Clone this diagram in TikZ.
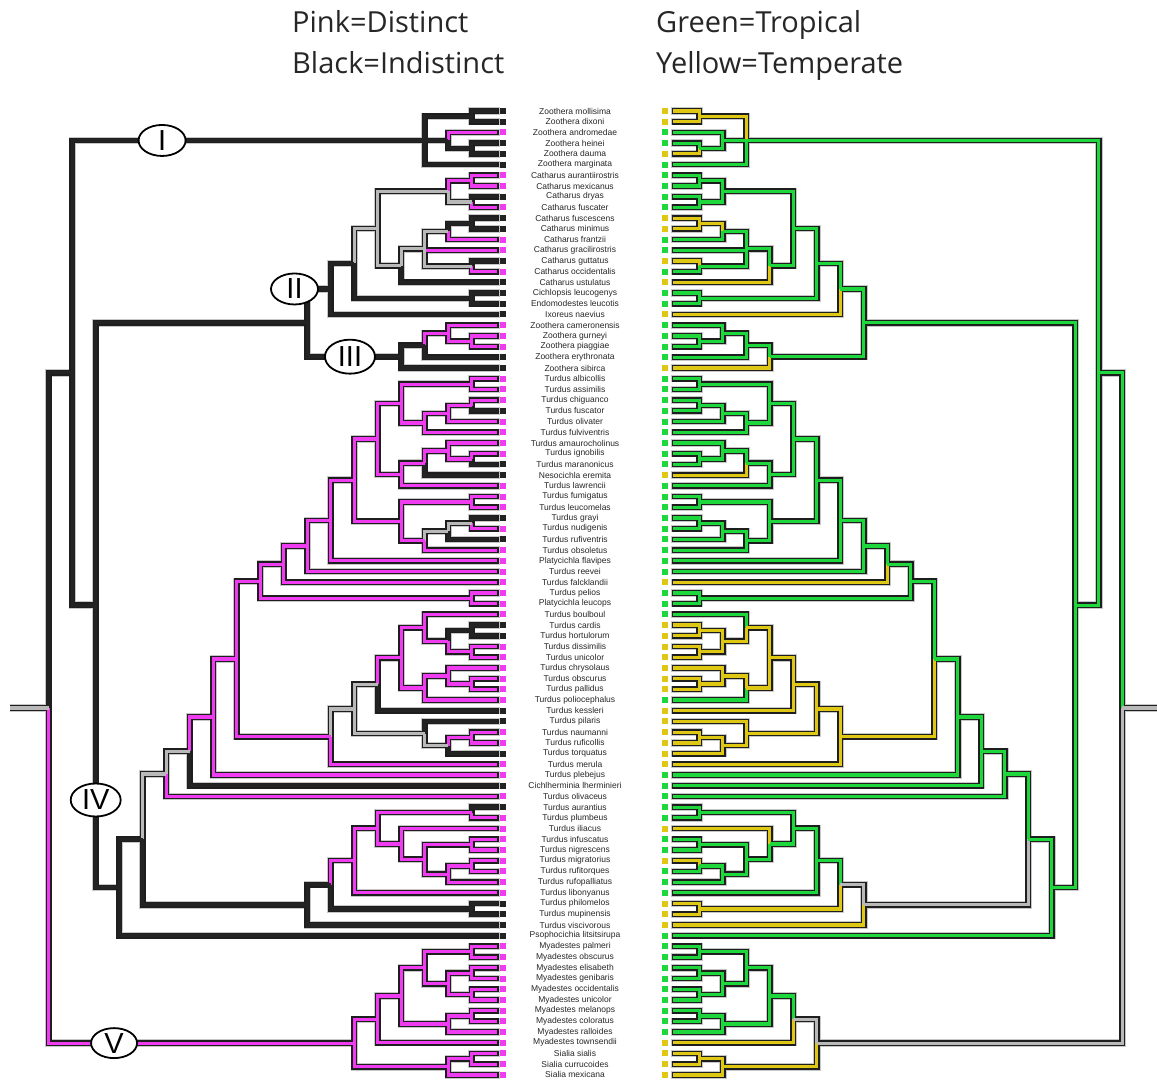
\documentclass[tikz,border=0pt]{standalone}
\usepackage{fontspec}
\setmainfont{Liberation Sans}
\newfontfamily\headfont{Open Sans}
\usetikzlibrary{calc,shapes.geometric}

\definecolor{pk}{RGB}{240,60,240}
\definecolor{bk}{RGB}{35,35,35}
\definecolor{gy}{RGB}{185,185,185}
\definecolor{gn}{RGB}{30,215,60}
\definecolor{yl}{RGB}{222,200,20}
\definecolor{ink}{RGB}{30,30,30}

\tikzset{
  lab/.style={font=\fontsize{8.5}{9}\selectfont, text=black!85, inner sep=0pt},
  sq/.style={rectangle, minimum size=6pt, inner sep=0pt, draw=none},
  oval/.style={ellipse, draw=black, line width=1.8pt, fill=white, inner sep=0pt,
    minimum width=47pt, minimum height=31pt, font=\fontsize{29}{30}\selectfont},
  head/.style={anchor=base west, inner sep=0pt, text=black!85,
    font=\headfont\fontsize{29}{32}\selectfont},
}

% number/name/left state/right state/parent
\def\taxa{1/Zoothera mollisima/bk/yl/zA,
2/Zoothera dixoni/bk/yl/zA,
3/Zoothera andromedae/pk/gn/zC,
4/Zoothera heinei/bk/gn/zB,
5/Zoothera dauma/bk/yl/zB,
6/Zoothera marginata/bk/gn/zI,
7/Catharus aurantiirostris/pk/gn/cA,
8/Catharus mexicanus/pk/gn/cA,
9/Catharus dryas/bk/gn/cB,
10/Catharus fuscater/pk/gn/cB,
11/Catharus fuscescens/bk/yl/cD,
12/Catharus minimus/bk/yl/cD,
13/Catharus frantzii/pk/gn/cE,
14/Catharus gracilirostris/pk/gn/cG,
15/Catharus guttatus/bk/yl/cF,
16/Catharus occidentalis/pk/gn/cF,
17/Catharus ustulatus/bk/yl/cH,
18/Cichlopsis leucogenys/bk/gn/cK,
19/Endomodestes leucotis/bk/gn/cK,
20/Ixoreus naevius/bk/yl/cII,
21/Zoothera cameronensis/pk/gn/zE,
22/Zoothera gurneyi/pk/gn/zD,
23/Zoothera piaggiae/pk/gn/zD,
24/Zoothera erythronata/bk/gn/zF,
25/Zoothera sibirca/bk/yl/zIII,
26/Turdus albicollis/pk/gn/tA,
27/Turdus assimilis/pk/gn/tA,
28/Turdus chiguanco/pk/gn/tB,
29/Turdus fuscator/bk/gn/tB,
30/Turdus olivater/pk/gn/tC,
31/Turdus fulviventris/pk/gn/tD,
32/Turdus amaurocholinus/pk/gn/tG,
33/Turdus ignobilis/pk/gn/tF,
34/Turdus maranonicus/bk/gn/tF,
35/Nesocichla eremita/bk/yl/tH,
36/Turdus lawrencii/pk/gn/tJ,
37/Turdus fumigatus/pk/gn/tL,
38/Turdus leucomelas/pk/gn/tL,
39/Turdus grayi/bk/gn/tM,
40/Turdus nudigenis/pk/gn/tM,
41/Turdus rufiventris/bk/gn/tN,
42/Turdus obsoletus/pk/gn/tO,
43/Platycichla flavipes/pk/gn/tR,
44/Turdus reevei/pk/gn/tS,
45/Turdus falcklandii/pk/yl/tT,
46/Turdus pelios/pk/gn/tU,
47/Platycichla leucops/pk/gn/tU,
48/Turdus boulboul/pk/gn/uD,
49/Turdus cardis/bk/yl/uA,
50/Turdus hortulorum/bk/yl/uA,
51/Turdus dissimilis/pk/yl/uB,
52/Turdus unicolor/pk/yl/uB,
53/Turdus chrysolaus/pk/yl/uF,
54/Turdus obscurus/pk/yl/uE,
55/Turdus pallidus/pk/yl/uE,
56/Turdus poliocephalus/pk/gn/uG,
57/Turdus kessleri/bk/yl/uJ,
58/Turdus pilaris/bk/yl/uM,
59/Turdus naumanni/pk/yl/uK,
60/Turdus ruficollis/pk/yl/uK,
61/Turdus torquatus/bk/yl/uL,
62/Turdus merula/pk/yl/uO,
63/Turdus plebejus/pk/gn/tX,
64/Cichlherminia lherminieri/bk/gn/tY,
65/Turdus olivaceus/pk/gn/tZ,
66/Turdus aurantius/bk/gn/vA,
67/Turdus plumbeus/pk/gn/vA,
68/Turdus iliacus/pk/yl/vF,
69/Turdus infuscatus/pk/gn/vB,
70/Turdus nigrescens/pk/gn/vB,
71/Turdus migratorius/pk/yl/vC,
72/Turdus rufitorques/pk/gn/vC,
73/Turdus rufopalliatus/pk/gn/vD,
74/Turdus libonyanus/pk/gn/vH,
75/Turdus philomelos/bk/yl/vJ,
76/Turdus mupinensis/bk/yl/vJ,
77/Turdus viscivorous/bk/yl/vL,
78/Psophocichia litsitsirupa/bk/gn/tIV,
79/Myadestes palmeri/pk/gn/mA,
80/Myadestes obscurus/pk/gn/mA,
81/Myadestes elisabeth/pk/gn/mB,
82/Myadestes genibaris/pk/gn/mB,
83/Myadestes occidentalis/pk/gn/mC,
84/Myadestes unicolor/pk/gn/mC,
85/Myadestes melanops/pk/gn/mF,
86/Myadestes coloratus/pk/gn/mF,
87/Myadestes ralloides/pk/gn/mG,
88/Myadestes townsendii/pk/yl/mJ,
89/Sialia sialis/pk/yl/sA,
90/Sialia currucoides/pk/yl/sA,
91/Sialia mexicana/pk/yl/sB}

% clade/level/first child/last child
\def\clades{zA/1/1/2, zB/1/4/5, zC/2/3/zB, zI/3/zA/6,
cA/1/7/8, cB/1/9/10, cC/2/cA/cB, cD/1/11/12, cE/2/cD/13, cF/1/15/16,
cG/3/cE/cF, cH/4/cG/17, cJ/5/cC/cH, cK/1/18/19, cL/6/cJ/cK, cII/7/cL/20,
zD/1/22/23, zE/2/21/zD, zF/3/zE/24, zIII/4/zF/25, nA/8/cII/zIII,
tA/1/26/27, tB/1/28/29, tC/2/tB/30, tD/3/tC/31, tE/4/tA/tD,
tF/1/33/34, tG/2/32/tF, tH/3/tG/35, tJ/4/tH/36, tK/5/tE/tJ,
tL/1/37/38, tM/1/39/40, tN/2/tM/41, tO/3/tN/42, tP/4/tL/tO, tQ/6/tK/tP,
tR/7/tQ/43, tS/8/tR/44, tT/9/tS/45, tU/1/46/47, tV/10/tT/tU,
uA/1/49/50, uB/1/51/52, uC/2/uA/uB, uD/3/48/uC, uE/1/54/55, uF/2/53/uE,
uG/3/uF/56, uH/4/uD/uG, uJ/5/uH/57, uK/1/59/60, uL/2/uK/61, uM/3/58/uL,
uN/6/uJ/uM, uO/7/uN/62, tW/11/tV/uO, tX/12/tW/63, tY/13/tX/64, tZ/14/tY/65,
vA/1/66/67, vB/1/69/70, vC/1/71/72, vD/2/vC/73, vE/3/vB/vD, vF/4/68/vE,
vG/5/vA/vF, vH/6/vG/74, vJ/1/75/76, vK/7/vH/vJ, vL/8/vK/77,
tIVa/15/tZ/vL, tIV/16/tIVa/78, nB/17/nA/tIV, nC/18/zI/nB,
mA/1/79/80, mB/1/81/82, mC/1/83/84, mD/2/mB/mC, mE/3/mA/mD, mF/1/85/86,
mG/2/mF/87, mH/4/mE/mG, mJ/5/mH/88, sA/1/89/90, sB/2/sA/91, mV/6/mJ/sB,
root/19/nC/mV}

% child/parent/left state/right state
\def\limbs{zA/zI/bk/yl, zB/zC/bk/gn, zC/zI/bk/gn, zI/nC/bk/gn,
cA/cC/pk/gn, cB/cC/gy/gn, cC/cJ/gy/gn, cD/cE/bk/yl, cE/cG/gy/gn, cF/cG/gy/gn,
cG/cH/gy/gn, cH/cJ/gy/gn, cJ/cL/gy/gn, cK/cL/bk/gn, cL/cII/bk/gn, cII/nA/bk/gn,
zD/zE/pk/gn, zE/zF/pk/gn, zF/zIII/bk/gn, zIII/nA/bk/gn, nA/nB/bk/gn,
tA/tE/pk/gn, tB/tC/pk/gn, tC/tD/pk/gn, tD/tE/pk/gn, tE/tK/pk/gn,
tF/tG/pk/gn, tG/tH/pk/gn, tH/tJ/pk/gn, tJ/tK/pk/gn, tK/tQ/pk/gn,
tL/tP/pk/gn, tM/tN/gy/gn, tN/tO/gy/gn, tO/tP/pk/gn, tP/tQ/pk/gn, tQ/tR/pk/gn,
tR/tS/pk/gn, tS/tT/pk/gn, tT/tV/pk/gn, tU/tV/pk/gn, tV/tW/pk/gn,
uA/uC/bk/yl, uB/uC/pk/yl, uC/uD/pk/yl, uD/uH/pk/yl, uE/uF/pk/yl, uF/uG/pk/yl,
uG/uH/pk/yl, uH/uJ/pk/yl, uJ/uN/gy/yl, uK/uL/pk/yl, uL/uM/gy/yl, uM/uN/gy/yl,
uN/uO/gy/yl, uO/tW/pk/yl, tW/tX/pk/gn, tX/tY/pk/gn, tY/tZ/gy/gn, tZ/tIVa/gy/gn,
vA/vG/pk/gn, vB/vE/pk/gn, vC/vD/pk/gn, vD/vE/pk/gn, vE/vF/pk/gn, vF/vG/pk/gn,
vG/vH/pk/gn, vH/vK/pk/gn, vJ/vK/bk/yl, vK/vL/bk/gy, vL/tIVa/bk/gy,
tIVa/tIV/bk/gn, tIV/nB/bk/gn, nB/nC/bk/gn, nC/root/bk/gn,
mA/mE/pk/gn, mB/mD/pk/gn, mC/mD/pk/gn, mD/mE/pk/gn, mE/mH/pk/gn, mF/mG/pk/gn,
mG/mH/pk/gn, mH/mJ/pk/gn, mJ/mV/pk/gy, sA/sB/pk/yl, sB/mV/pk/yl, mV/root/pk/gy}

\newcommand{\drawtree}{%
  \foreach \i/\nm/\a/\b/\up in \taxa {
    \draw[limb=\a] (L\i) -| (L\up);
    \draw[limb=\b] (R\i) -| (R\up);
  }
  \foreach \ch/\up/\a/\b in \limbs {
    \draw[limb=\a] (L\ch) -| (L\up);
    \draw[limb=\b] (R\ch) -| (R\up);
  }
  \draw[limb=gy] (Lroot) -- (Lstem);
  \draw[limb=gy] (Rroot) -- (Rstem);
}

\begin{document}
\begin{tikzpicture}[x=1pt, y=-1pt]
  \useasboundingbox (0,0) rectangle (1157,1080);

  \node[head] (hpink)  at (292,32) {Pink=Distinct};
  \node[head] (hblack) at (292,73) {Black=Indistinct};
  \node[head] (hgreen) at (656,32) {Green=Tropical};
  \node[head] (hyell)  at (656,73) {Yellow=Temperate};

  \foreach \i/\nm/\a/\b/\up in \taxa {
    \pgfmathsetmacro\yy{111+(\i-1)*10.71}
    \coordinate (L\i) at (497.3,\yy);
    \coordinate (R\i) at (673.3,\yy);
    \node[sq, fill=\a] (qL\i) at (503,\yy) {};
    \node[sq, fill=\b] (qR\i) at (665,\yy) {};
    \node[lab] (tx\i) at (575,\yy) {\nm};
  }

  \foreach \cl/\lv/\fc/\lc in \clades {
    \path let \p1=(L\fc), \p2=(L\lc) in
      coordinate (L\cl) at ({(495.2-23.5*\lv)*1pt},{0.5*(\y1+\y2)})
      coordinate (R\cl) at ({(675.8+23.5*\lv)*1pt},{0.5*(\y1+\y2)});
  }
  \coordinate (Lstem) at ($(Lroot)+(-38.7,0)$);
  \coordinate (Rstem) at ($(Rroot)+(34.7,0)$);

  % soft rim, black outline, then the state colour
  \begin{scope}[limb/.style={line width=7.4pt, draw=black!22, shorten <=-2.4pt}]
    \drawtree
  \end{scope}
  \begin{scope}[limb/.style={line width=5.8pt, draw=ink, shorten <=-1.6pt}]
    \drawtree
  \end{scope}
  \begin{scope}[limb/.style={line width=3.2pt, draw=#1}]
    \drawtree
  \end{scope}

  \node[oval] (ovI) at ($(LzI)!0.745!(LnC |- LzI)$) {I};
  \node[oval] (ovII) at ($(LnA |- LcII)+(-12.7,0)$) {II};
  \node[oval, minimum width=50pt, minimum height=34pt] (ovIII)
    at ($(LzIII)!0.545!(LnA |- LzIII)$) {III};
  \node[oval, minimum width=50pt, minimum height=33pt] (ovIV)
    at ($(LnB)!0.69!(LnB |- LtIV)$) {IV};
  \node[oval, minimum width=46pt, minimum height=30pt] (ovV)
    at ($(Lroot |- LmV)!0.214!(LmV)$) {V};
\end{tikzpicture}
\end{document}
